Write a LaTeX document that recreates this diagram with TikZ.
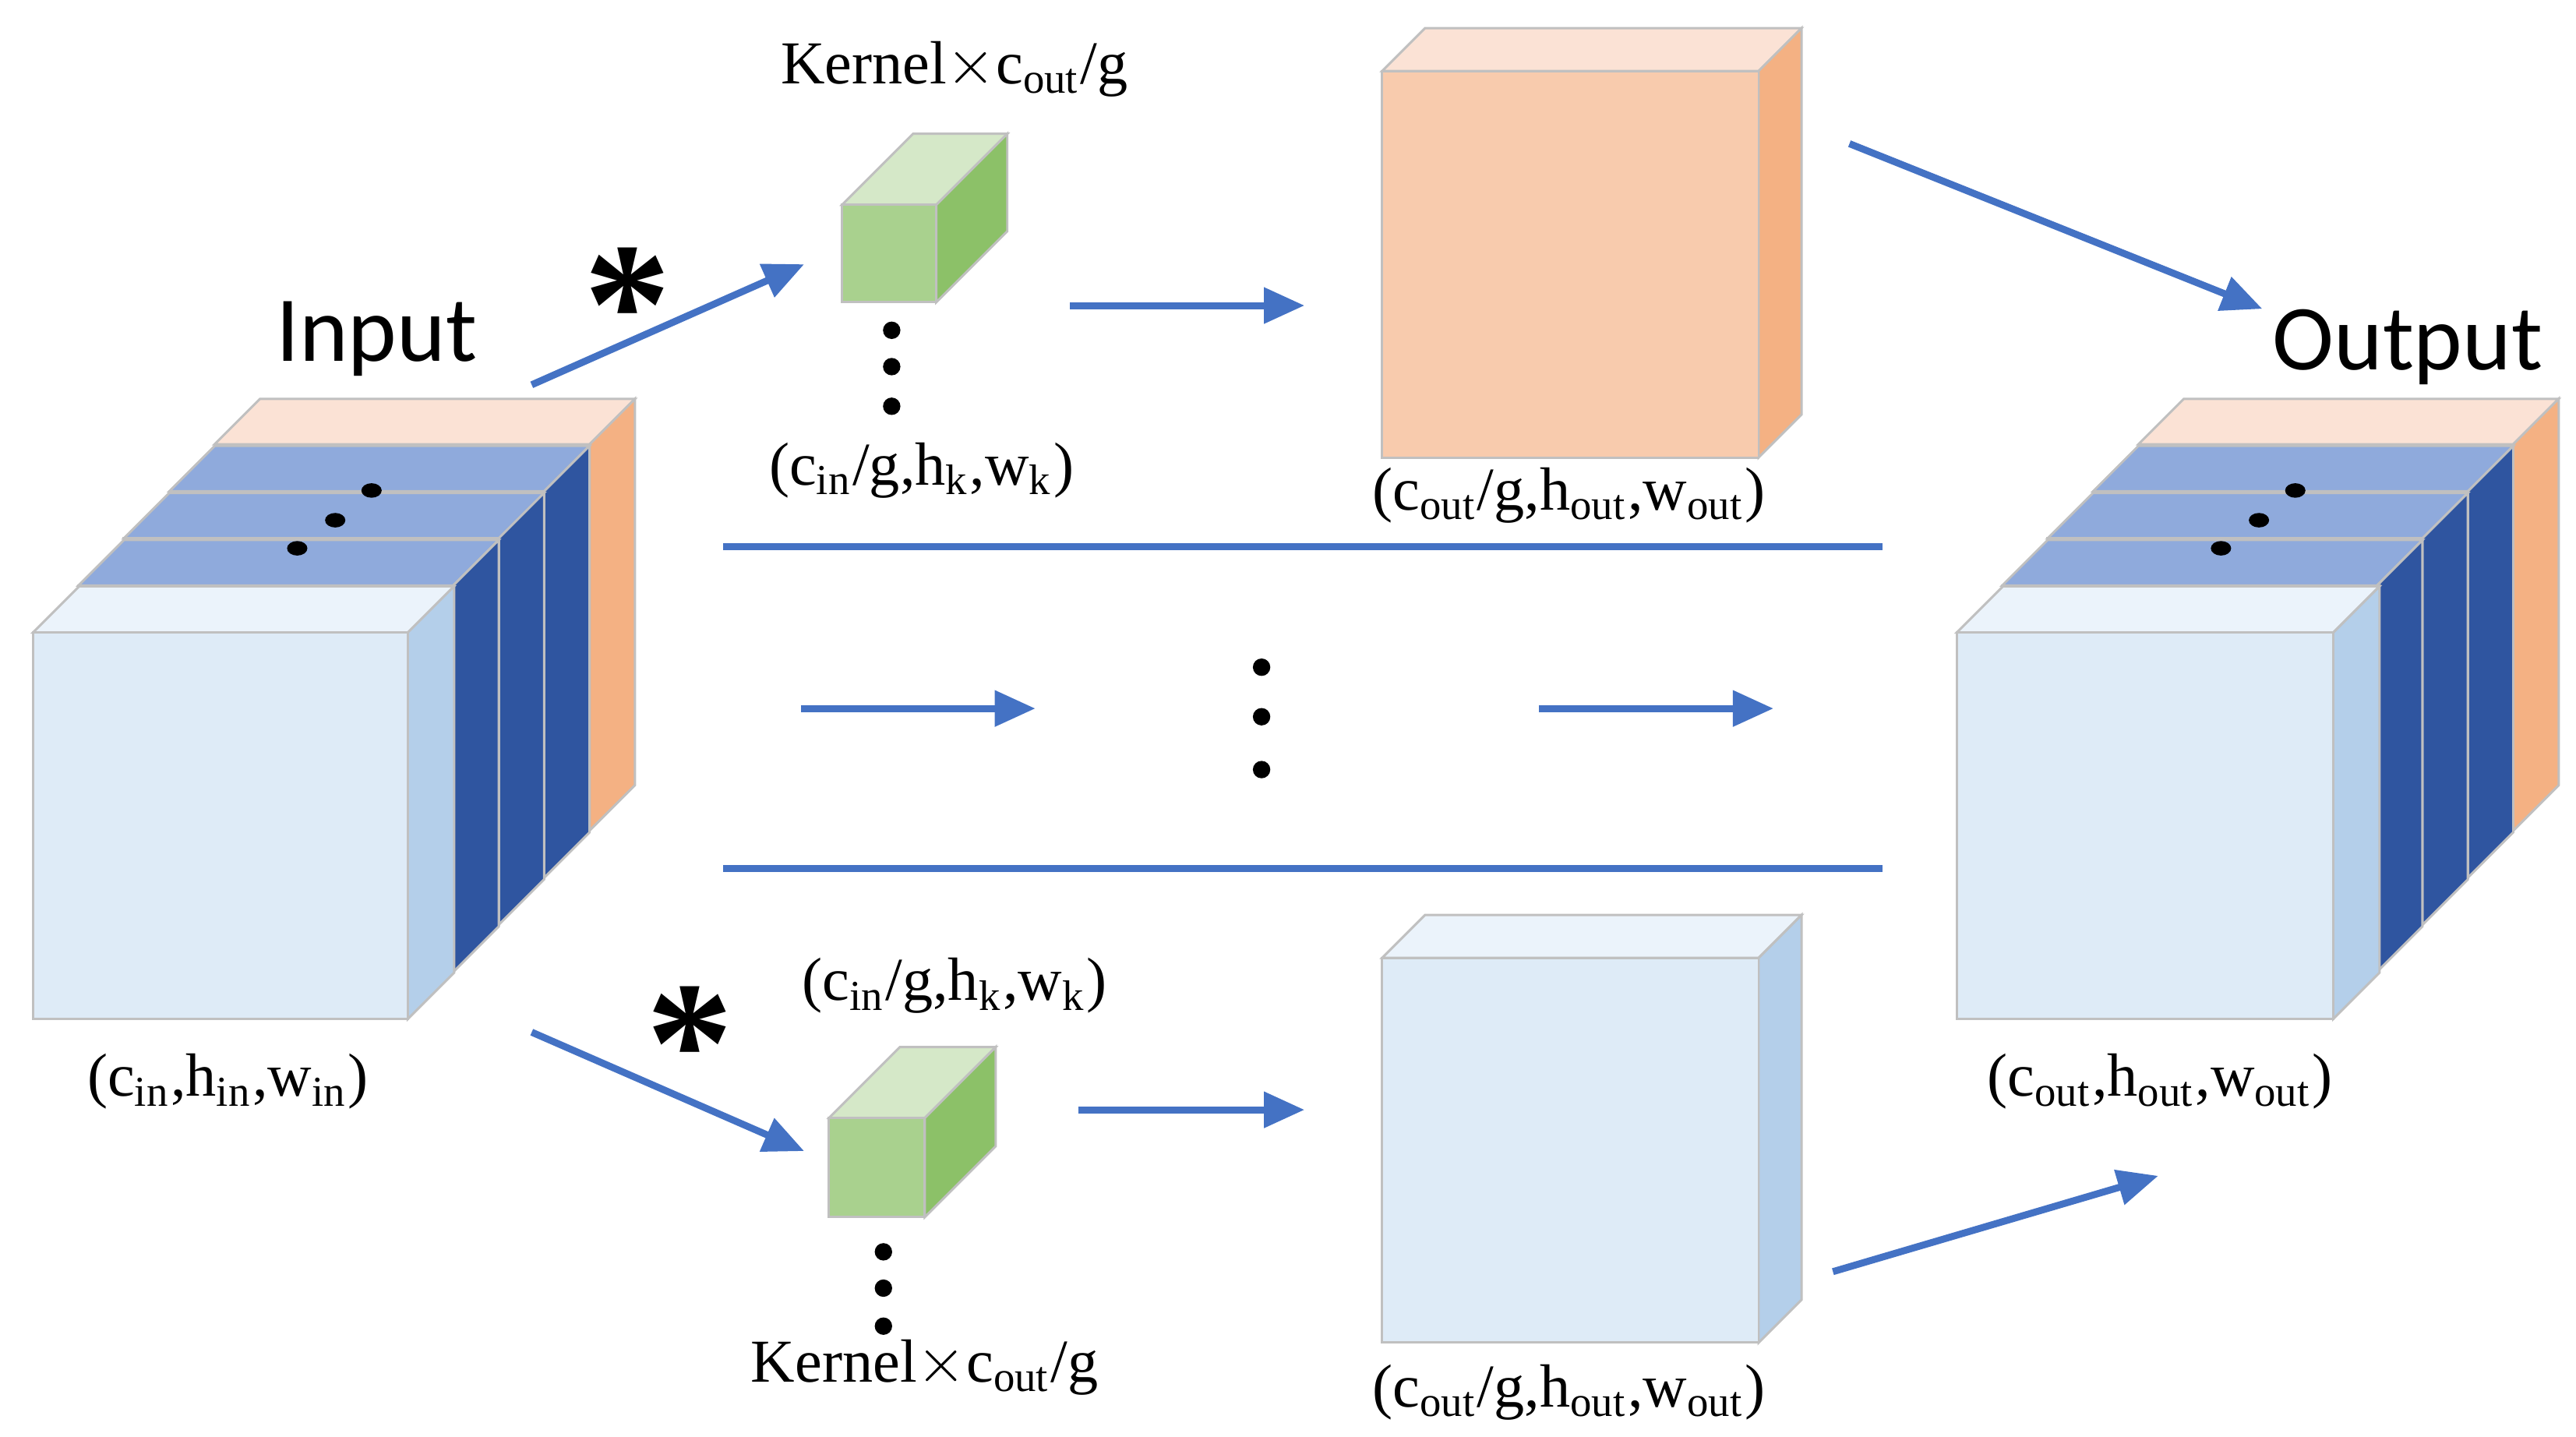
\documentclass[tikz,border=0pt]{standalone}
\usepackage{fontspec}
\setmainfont{Liberation Serif}
\newfontfamily\sans{Carlito}
\usetikzlibrary{arrows.meta,shapes.geometric}
\definecolor{arr}{HTML}{4472C4}
\definecolor{edge}{HTML}{C0C0C0}
\definecolor{lbF}{HTML}{DEEBF7}\definecolor{lbT}{HTML}{EBF3FB}\definecolor{lbS}{HTML}{B4CFEA}
\definecolor{bT}{HTML}{8FAADC}\definecolor{bS}{HTML}{2F55A0}
\definecolor{oF}{HTML}{F8CBAD}\definecolor{oT}{HTML}{FBE2D5}\definecolor{oS}{HTML}{F4B183}
\definecolor{gF}{HTML}{A9D18E}\definecolor{gT}{HTML}{D5E8C8}\definecolor{gS}{HTML}{8CC168}
\newcommand\mybox[8]{%
 \filldraw[draw=edge,line width=0.4pt,fill=#6] (#1,#2) -- ++(#5,-#5) -- ++(#3,0) -- ++(-#5,#5) -- cycle;
 \filldraw[draw=edge,line width=0.4pt,fill=#7] (#1+#3,#2) -- ++(#5,-#5) -- ++(0,#4) -- ++(-#5,#5) -- cycle;
 \filldraw[draw=edge,line width=0.4pt,fill=#8] (#1,#2) rectangle ++(#3,#4);}
\tikzset{x=0.01cm,y=-0.01cm,
 ar/.style={draw=arr,line width=1.2pt,-{Triangle[length=7pt,width=6pt]}},
 sep/.style={draw=arr,line width=1.2pt},
 lab/.style={font=\fontsize{10.5}{12}\selectfont,inner sep=0pt},
 big/.style={font=\sans\fontsize{16}{18}\selectfont,inner sep=0pt},
 dot/.style={circle,fill=black,inner sep=0pt,minimum size=3pt},
 sdot/.style={ellipse,fill=black,inner sep=0pt,minimum width=3.5pt,minimum height=2.5pt}}
\begin{document}
\begin{tikzpicture}
\useasboundingbox (0,0) rectangle (1560,870);
% input stack
\mybox{130}{269}{227}{234}{27.5}{oT}{oS}{oF}
\mybox{102.5}{297.5}{227}{234}{27.5}{bT}{bS}{bT}
\mybox{75}{326}{227}{234}{27.5}{bT}{bS}{bT}
\mybox{47.5}{354.5}{227}{234}{27.5}{bT}{bS}{bT}
\mybox{20}{383}{227}{234}{28}{lbT}{lbS}{lbF}
\node[sdot] (d1) at (180,332) {};\node[sdot] (d2) at (203,315) {};\node[sdot] (d3) at (225,297) {};
% output stack
\mybox{1295}{269}{227}{234}{27.5}{oT}{oS}{oF}
\mybox{1267.5}{297.5}{227}{234}{27.5}{bT}{bS}{bT}
\mybox{1240}{326}{227}{234}{27.5}{bT}{bS}{bT}
\mybox{1212.5}{354.5}{227}{234}{27.5}{bT}{bS}{bT}
\mybox{1185}{383}{228}{234}{28}{lbT}{lbS}{lbF}
\node[sdot] (e1) at (1345,332) {};\node[sdot] (e2) at (1368,315) {};\node[sdot] (e3) at (1390,297) {};
% kernels
\mybox{510}{124}{57}{59}{43}{gT}{gS}{gF}
\mybox{502}{677}{58}{60}{43}{gT}{gS}{gF}
% big maps
\mybox{837}{43}{228}{234}{26}{oT}{oS}{oF}
\mybox{837}{580}{228}{233}{26}{lbT}{lbS}{lbF}
% texts
\node[big] (tin) at (228,205) {Input};
\node[big] (tout) at (1458,210) {Output};
\node[lab] (t1) at (578,42) {Kernel$\times$c\textsubscript{out}/g};
\node[lab] (t2) at (558,285) {(c\textsubscript{in}/g,h\textsubscript{k},w\textsubscript{k})};
\node[lab] (t3) at (950,300) {(c\textsubscript{out}/g,h\textsubscript{out},w\textsubscript{out})};
\node[lab] (t4) at (138,655) {(c\textsubscript{in},h\textsubscript{in},w\textsubscript{in})};
\node[lab] (t5) at (578,597) {(c\textsubscript{in}/g,h\textsubscript{k},w\textsubscript{k})};
\node[lab] (t6) at (560,828) {Kernel$\times$c\textsubscript{out}/g};
\node[lab] (t7) at (950,843) {(c\textsubscript{out}/g,h\textsubscript{out},w\textsubscript{out})};
\node[lab] (t8) at (1308,655) {(c\textsubscript{out},h\textsubscript{out},w\textsubscript{out})};
\node[inner sep=0pt,font=\fontsize{30}{30}\selectfont\bfseries] (s1) at (380,185) {*};
\node[inner sep=0pt,font=\fontsize{30}{30}\selectfont\bfseries] (s2) at (418,632) {*};
% dots
\foreach \y in {200,222,246}{\node[dot] at (540,\y) {};}
\foreach \y in {404,434,466}{\node[dot] at (764,\y) {};}
\foreach \y in {758,780,803}{\node[dot] at (535,\y) {};}
% coordinates and arrows
\coordinate (a1) at (322,233);\coordinate (b1) at (487,160);
\coordinate (a2) at (648,185);\coordinate (b2) at (790,185);
\coordinate (a3) at (1120,87);\coordinate (b3) at (1370,187);
\coordinate (a4) at (485,429);\coordinate (b4) at (627,429);
\coordinate (a5) at (932,429);\coordinate (b5) at (1074,429);
\coordinate (a6) at (322,625);\coordinate (b6) at (487,697);
\coordinate (a7) at (653,672);\coordinate (b7) at (790,672);
\coordinate (a8) at (1110,770);\coordinate (b8) at (1307,712);
\coordinate (l1) at (438,331);\coordinate (r1) at (1140,331);
\coordinate (l2) at (438,526);\coordinate (r2) at (1140,526);
\foreach \i in {1,...,8}{\draw[ar] (a\i) -- (b\i);}
\draw[sep] (l1) -- (r1);
\draw[sep] (l2) -- (r2);
\end{tikzpicture}
\end{document}
